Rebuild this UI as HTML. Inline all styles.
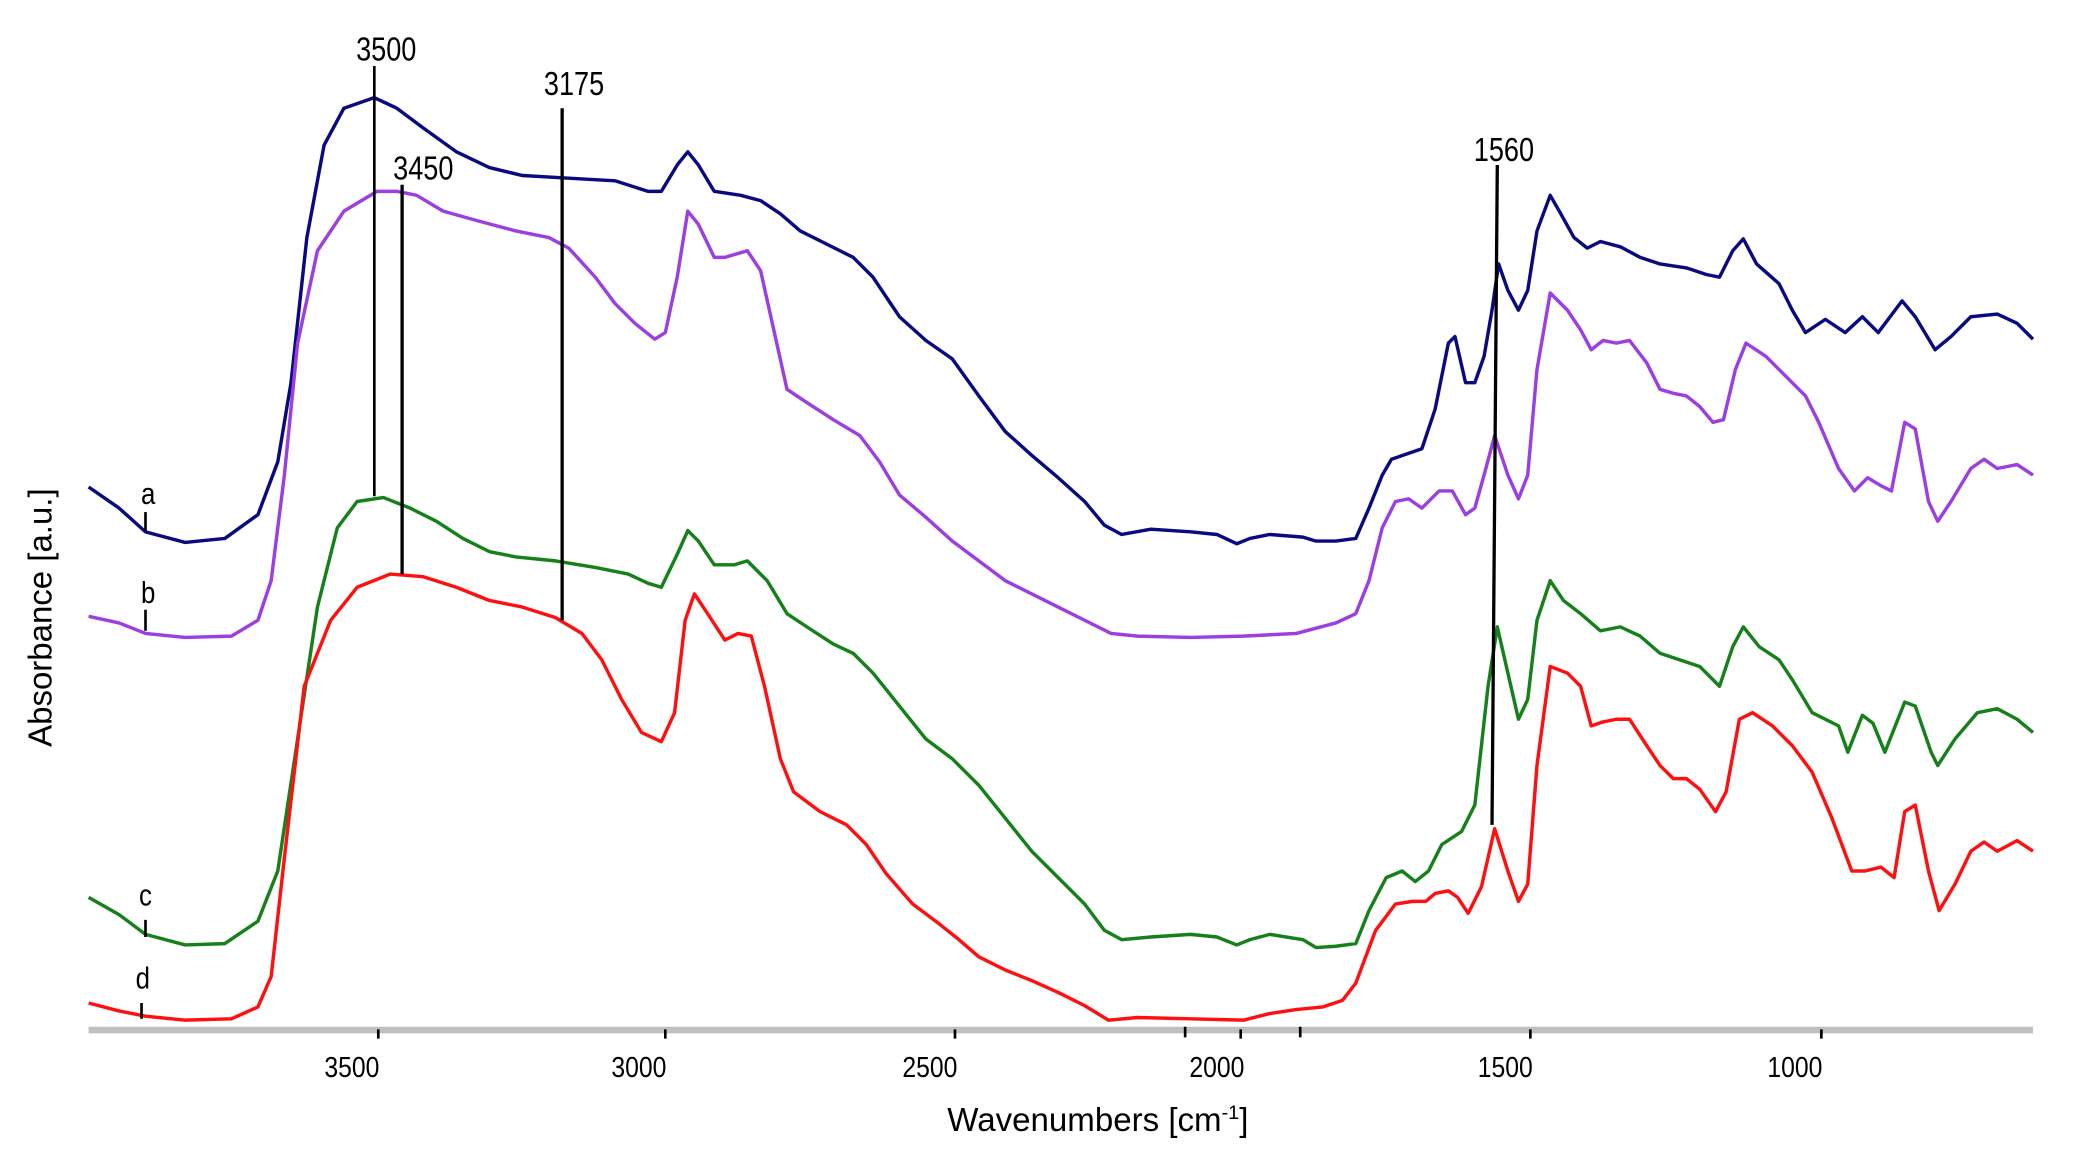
<!DOCTYPE html>
<html><head><meta charset="utf-8"><style>
html,body{margin:0;padding:0;background:#fff;}
svg{display:block;}
text{font-family:"Liberation Sans",sans-serif;fill:#000;}
</style></head><body>
<svg width="2074" height="1164" viewBox="0 0 1568 882" preserveAspectRatio="none" xmlns="http://www.w3.org/2000/svg">
<rect width="1568" height="882" fill="#fff"/>
<!-- axis -->
<rect x="67" y="778" width="1470" height="5" fill="#c0c0c0"/>
<g stroke="#000" stroke-width="2">
<line x1="286" y1="780" x2="286" y2="787"/><line x1="503" y1="780" x2="503" y2="787"/>
<line x1="722" y1="780" x2="722" y2="787"/><line x1="896" y1="778" x2="896" y2="786"/>
<line x1="938" y1="780" x2="938" y2="787"/><line x1="983" y1="778" x2="983" y2="786"/>
<line x1="1157" y1="780" x2="1157" y2="787"/><line x1="1377" y1="780" x2="1377" y2="787"/>
</g>
<g font-size="22" text-anchor="middle">
<text transform="translate(266,816) scale(0.85,1)">3500</text>
<text transform="translate(483,816) scale(0.85,1)">3000</text>
<text transform="translate(703,816) scale(0.85,1)">2500</text>
<text transform="translate(920,816) scale(0.85,1)">2000</text>
<text transform="translate(1138,816) scale(0.85,1)">1500</text>
<text transform="translate(1357,816) scale(0.85,1)">1000</text>
</g>
<text x="830" y="857" font-size="25" text-anchor="middle">Wavenumbers [cm<tspan font-size="15" dy="-9">-1</tspan><tspan dy="9">]</tspan></text>
<text transform="translate(39,468) rotate(-90)" font-size="25" text-anchor="middle">Absorbance [a.u.]</text>
<!-- curves -->
<g fill="none" stroke-width="2.6" stroke-linejoin="round">
<polyline stroke="#0a0a80" points="67,369 90,385 110,403 140,411 170,408 195,390 210,350 220,290 232,180 245,110 260,82 283,74 300,82 320,97 345,115 370,127 395,133 430,135 465,137 490,145 500,145 512,125 520,115 528,125 540,145 560,148 575,152 590,162 605,175 625,185 645,195 660,210 680,240 700,258 720,272 740,300 760,327 780,345 800,362 820,380 835,398 848,405 870,401 900,403 920,405 935,412 945,408 960,405 985,407 995,410 1010,410 1025,408 1035,385 1045,360 1052,348 1075,340 1085,310 1095,260 1100,255 1108,290 1115,290 1122,270 1128,235 1133,200 1140,220 1148,235 1155,220 1162,175 1172,148 1180,162 1190,180 1200,188 1210,183 1225,187 1240,195 1255,200 1275,203 1290,208 1300,210 1310,190 1318,181 1328,200 1345,215 1355,235 1365,252 1380,242 1395,252 1408,240 1420,252 1438,228 1448,240 1463,265 1475,255 1490,240 1510,238 1525,245 1537,257"/>
<polyline stroke="#9b3fe0" points="67,467 90,472 110,480 140,483 175,482 195,470 205,440 215,360 225,260 240,190 260,160 285,145 300,145 315,148 335,160 360,167 390,175 415,180 430,188 450,210 465,230 480,245 495,257 503,252 512,210 520,160 528,170 540,195 548,195 565,190 575,205 585,250 595,295 610,305 630,318 650,330 665,350 680,375 700,392 720,410 740,425 760,440 780,450 800,460 820,470 840,480 860,482 900,483 940,482 980,480 1010,472 1025,465 1035,440 1045,400 1055,380 1065,378 1075,385 1088,372 1098,372 1108,390 1115,385 1122,360 1130,330 1140,360 1148,378 1155,360 1162,280 1172,222 1185,235 1195,250 1203,265 1212,258 1222,260 1232,258 1245,275 1255,295 1265,298 1275,300 1285,308 1295,320 1303,318 1312,280 1320,260 1335,270 1350,285 1365,300 1375,320 1390,355 1402,372 1412,362 1422,368 1430,372 1440,320 1448,325 1458,380 1465,395 1475,380 1490,355 1500,348 1510,355 1525,352 1537,360"/>
<polyline stroke="#16801a" points="67,680 90,693 110,708 140,716 170,715 195,698 210,660 225,560 240,460 255,400 270,380 290,377 310,385 330,395 350,408 370,418 390,422 420,425 450,430 475,435 490,442 500,445 512,420 520,402 528,410 540,428 555,428 565,425 580,440 595,465 610,475 630,488 645,495 660,510 680,535 700,560 720,575 740,595 760,620 780,645 800,665 820,685 835,705 848,712 870,710 900,708 920,710 935,716 945,712 960,708 985,712 995,718 1010,717 1025,715 1035,690 1048,665 1060,660 1070,668 1080,660 1090,640 1105,630 1115,610 1125,520 1132,475 1140,510 1148,545 1155,530 1162,470 1172,440 1182,455 1195,465 1210,478 1225,475 1240,482 1255,495 1270,500 1285,505 1300,520 1310,490 1318,475 1330,490 1345,500 1355,515 1370,540 1380,545 1390,550 1397,570 1408,542 1416,548 1425,570 1440,532 1448,535 1460,570 1465,580 1478,560 1495,540 1510,537 1525,545 1537,555"/>
<polyline stroke="#ff1010" points="67,760 90,766 110,770 140,773 175,772 195,763 205,740 215,650 230,520 250,470 270,445 295,435 320,437 345,445 370,455 395,460 420,468 440,480 455,500 470,530 485,555 500,562 510,540 518,470 525,450 535,465 548,485 558,480 568,482 578,520 590,575 600,600 620,615 640,625 655,640 670,662 690,685 710,700 725,712 740,725 760,735 780,743 800,752 820,762 838,773 860,771 900,772 940,773 960,768 980,765 1000,763 1015,758 1025,745 1040,705 1055,685 1068,683 1078,683 1085,677 1095,675 1102,680 1110,692 1120,672 1130,628 1140,660 1148,683 1155,670 1162,580 1172,505 1185,510 1195,520 1203,550 1212,547 1222,545 1232,545 1245,565 1255,580 1265,590 1275,590 1285,598 1297,615 1305,600 1315,545 1325,540 1340,550 1355,565 1370,585 1385,620 1400,660 1410,660 1422,657 1432,665 1440,615 1448,610 1458,660 1466,690 1478,670 1490,645 1500,638 1510,645 1525,637 1537,645"/>
</g>
<!-- marker lines -->
<g stroke="#000">
<line x1="283" y1="50" x2="283" y2="376" stroke-width="2"/>
<line x1="304" y1="140" x2="304" y2="435" stroke-width="2.5"/>
<line x1="425" y1="82" x2="425" y2="470" stroke-width="2.5"/>
<line x1="1132" y1="125" x2="1128" y2="625" stroke-width="2.5"/>
<line x1="110" y1="388" x2="110" y2="402" stroke-width="2"/>
<line x1="110" y1="462" x2="110" y2="478" stroke-width="2"/>
<line x1="110" y1="697" x2="110" y2="710" stroke-width="2"/>
<line x1="107" y1="760" x2="107" y2="772" stroke-width="2"/>
</g>
<g font-size="25" text-anchor="middle">
<text transform="translate(292,46) scale(0.82,1)">3500</text>
<text transform="translate(434,72) scale(0.82,1)">3175</text>
<text transform="translate(320,136) scale(0.82,1)">3450</text>
<text transform="translate(1137,122) scale(0.82,1)">1560</text>
</g>
<g font-size="23" text-anchor="middle">
<text transform="translate(112,382) scale(0.85,1)">a</text>
<text transform="translate(112,457) scale(0.85,1)">b</text>
<text transform="translate(110,686) scale(0.85,1)">c</text>
<text transform="translate(108,749) scale(0.85,1)">d</text>
</g>
</svg>
</body></html>
